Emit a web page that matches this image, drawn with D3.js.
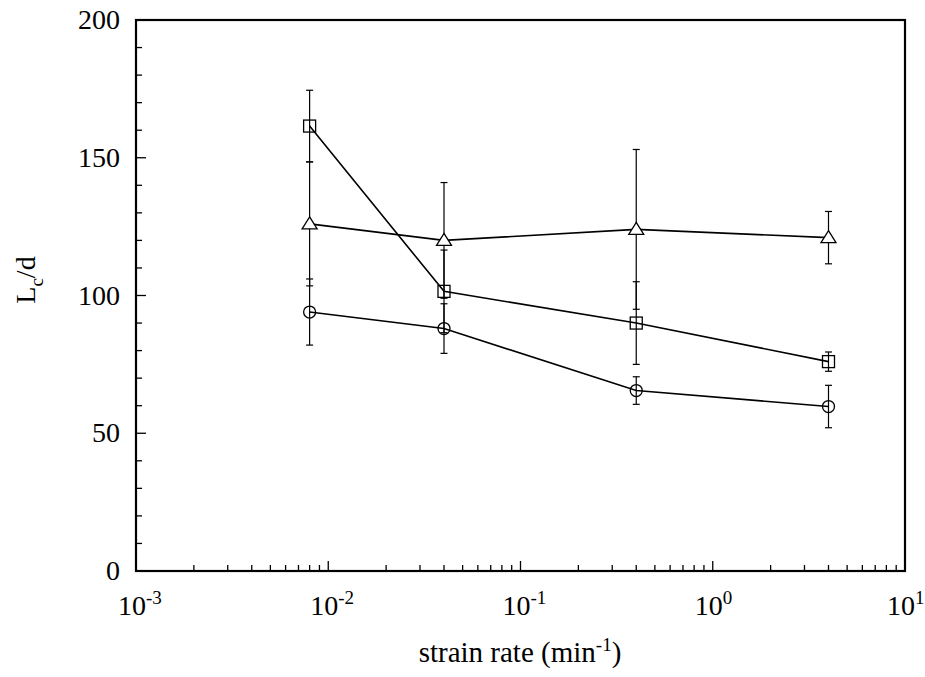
<!DOCTYPE html>
<html>
<head>
<meta charset="utf-8">
<script src="https://cdn.jsdelivr.net/npm/d3@7"></script>
<style>
  body { margin: 0; background: #fff; }
</style>
</head>
<body>
<svg id="chart" width="925" height="677" font-family="'Liberation Serif', 'Times New Roman', 'DejaVu Serif', serif"></svg>
<script>
const strainRates = [0.008, 0.04, 0.4, 4];

const squareVals = [161.5, 101.5, 90, 76];
const squareErr = [13, 15, 15, 3.5];
const triangleVals = [126, 120, 124, 121];
const triangleErr = [22.5, 21, 29, 9.5];
const circleVals = [94, 88, 65.5, 59.7];
const circleErr = [12, 9, 5, 7.7];

const yTicks = [0, 50, 100, 150, 200];
const xExponents = [-3, -2, -1, 0, 1];

const svg = d3.select("#chart");
const m = { left: 136, right: 905, top: 20, bottom: 571 };

const x = d3.scaleLog().domain([1e-3, 10]).range([m.left, m.right]);
const y = d3.scaleLinear().domain([0, 200]).range([m.bottom, m.top]);

// minor + major ticks, drawn inward
const g = svg.append("g");
for (let v = 0; v <= 200; v += 10) {
  const major = v % 50 === 0;
  g.append("line")
    .attr("x1", m.left).attr("x2", m.left + (major ? 10 : 6))
    .attr("y1", y(v)).attr("y2", y(v))
    .attr("stroke", "#000").attr("stroke-width", 1.3);
}
for (const e of xExponents) {
  for (let k = 1; k <= 9; k++) {
    const v = k * Math.pow(10, e);
    if (v > 10) break;
    const major = k === 1;
    g.append("line")
      .attr("x1", x(v)).attr("x2", x(v))
      .attr("y1", m.bottom).attr("y2", m.bottom - (major ? 10 : 6))
      .attr("stroke", "#000").attr("stroke-width", 1.3);
  }
}

// frame
svg.append("rect")
  .attr("x", m.left).attr("y", m.top)
  .attr("width", m.right - m.left).attr("height", m.bottom - m.top)
  .attr("fill", "none").attr("stroke", "#000").attr("stroke-width", 2.2);

// y tick labels
svg.append("g").selectAll("text").data(yTicks).join("text")
  .attr("x", 120).attr("y", (d) => y(d) + 9)
  .attr("text-anchor", "end").attr("font-size", 28)
  .text((d) => d);

// x tick labels with superscript
const xl = svg.append("g").selectAll("text").data(xExponents).join("text")
  .attr("x", (d) => x(Math.pow(10, d)) - 18)
  .attr("y", 615).attr("font-size", 28);
xl.append("tspan").text("10");
xl.append("tspan").attr("dy", -11).attr("font-size", 19).text((d) => d);

// axis titles
const xt = svg.append("text")
  .attr("x", 520).attr("y", 662).attr("text-anchor", "middle").attr("font-size", 29);
xt.append("tspan").text("strain rate (min");
xt.append("tspan").attr("dy", -11).attr("font-size", 19).text("-1");
xt.append("tspan").attr("dy", 11).text(")");

const yt = svg.append("text")
  .attr("transform", "translate(35,280) rotate(-90)")
  .attr("text-anchor", "middle").attr("font-size", 28);
yt.append("tspan").text("L");
yt.append("tspan").attr("dy", 8).attr("font-size", 19).text("c");
yt.append("tspan").attr("dy", -8).text("/d");

const series = [
  { vals: squareVals, err: squareErr, shape: "square" },
  { vals: triangleVals, err: triangleErr, shape: "triangle" },
  { vals: circleVals, err: circleErr, shape: "circle" },
];

const line = d3.line().x((d) => x(d[0])).y((d) => y(d[1]));

// error bars first
for (const s of series) {
  s.vals.forEach((v, i) => {
    const cx = x(strainRates[i]);
    const lo = y(v - s.err[i]);
    const hi = y(v + s.err[i]);
    svg.append("line").attr("x1", cx).attr("x2", cx).attr("y1", lo).attr("y2", hi)
      .attr("stroke", "#000").attr("stroke-width", 1.2);
    for (const yy of [lo, hi]) {
      svg.append("line").attr("x1", cx - 3.5).attr("x2", cx + 3.5).attr("y1", yy).attr("y2", yy)
        .attr("stroke", "#000").attr("stroke-width", 1.2);
    }
  });
}

// lines
for (const s of series) {
  svg.append("path")
    .datum(strainRates.map((r, i) => [r, s.vals[i]]))
    .attr("d", line)
    .attr("fill", "none").attr("stroke", "#000").attr("stroke-width", 1.6);
}

// markers (hollow)
for (const s of series) {
  s.vals.forEach((v, i) => {
    const cx = x(strainRates[i]);
    const cy = y(v);
    if (s.shape === "square") {
      svg.append("rect").attr("x", cx - 6).attr("y", cy - 6).attr("width", 12).attr("height", 12)
        .attr("fill", "none").attr("stroke", "#000").attr("stroke-width", 1.3);
    } else if (s.shape === "circle") {
      svg.append("circle").attr("cx", cx).attr("cy", cy).attr("r", 6)
        .attr("fill", "none").attr("stroke", "#000").attr("stroke-width", 1.3);
    } else {
      svg.append("path")
        .attr("d", `M${cx},${cy - 7}L${cx + 7.5},${cy + 5}L${cx - 7.5},${cy + 5}Z`)
        .attr("fill", "#fff").attr("stroke", "#000").attr("stroke-width", 1.3);
    }
  });
}
</script>
</body>
</html>
